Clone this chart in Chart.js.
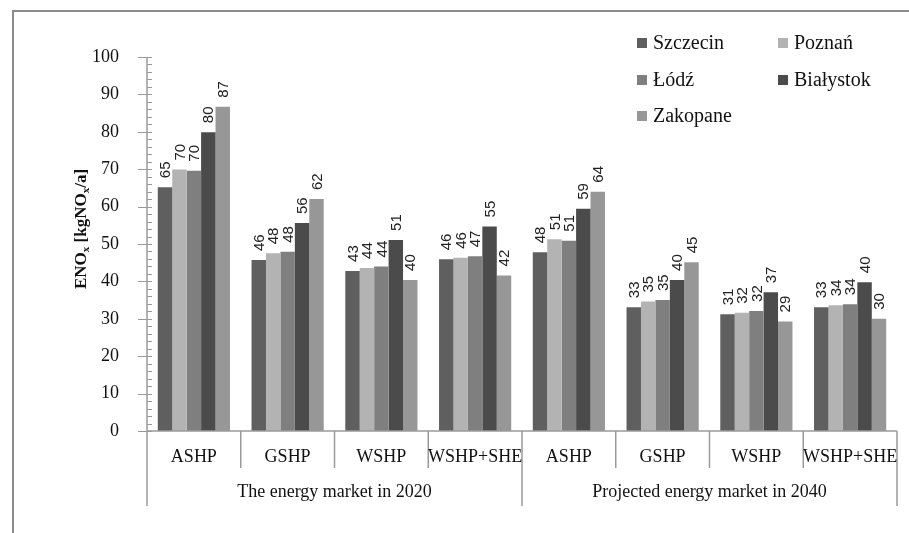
<!DOCTYPE html>
<html lang="en">
<head>
<meta charset="UTF-8">
<title>ENOx</title>
<script src="https://cdn.jsdelivr.net/npm/chart.js"></script>
<style>
  html, body { margin: 0; padding: 0; background: #fff; }
  #wrap { position: relative; width: 909px; height: 533px; overflow: hidden; }
  #frame { position: absolute; left: 12px; top: 10px; width: 1000px; height: 1000px;
           border-left: 2px solid #8c8c8c; border-top: 2px solid #8c8c8c; }
  #chart { position: absolute; left: 0; top: 0; }
  .legend { position: absolute; font-family: "Liberation Serif", serif; font-size: 20px; color: #111; }
  .legend span.box { display: inline-block; width: 10px; height: 10px; margin-right: 6px; vertical-align: 1px; }
</style>
</head>
<body>
<div id="wrap">
  <div id="frame"></div>
  <canvas id="chart" width="909" height="533"></canvas>
  <div id="legend"></div>
</div>

<script>
  const categories = ['ASHP', 'GSHP', 'WSHP', 'WSHP+SHE', 'ASHP', 'GSHP', 'WSHP', 'WSHP+SHE'];
  const groups = ['The energy market in 2020', 'Projected energy market in 2040'];
  const cities = ['Szczecin', 'Poznań', 'Łódź', 'Białystok', 'Zakopane'];
  const colors = ['#5f5f5f', '#b3b3b3', '#7f7f7f', '#4b4b4b', '#979797'];

  const szczecin  = [65.2, 45.7, 42.8, 45.9, 47.8, 33.1, 31.2, 33.1];
  const poznan    = [69.9, 47.5, 43.6, 46.3, 51.3, 34.6, 31.6, 33.6];
  const lodz      = [69.6, 47.9, 44.0, 46.7, 50.9, 35.0, 32.1, 33.9];
  const bialystok = [79.9, 55.6, 51.1, 54.7, 59.4, 40.4, 37.1, 39.8];
  const zakopane  = [86.7, 62.0, 40.4, 41.6, 64.0, 45.1, 29.3, 30.0];
  const series = [szczecin, poznan, lodz, bialystok, zakopane];

  const yTicks = [0, 10, 20, 30, 40, 50, 60, 70, 80, 90, 100];

  const serif = '"Liberation Serif", "Times New Roman", serif';
  const axisGray = '#9a9a9a';

  // legend, two columns in the top right
  const legendPos = [[637, 31], [778, 31], [637, 68], [778, 68], [637, 104]];
  const legendEl = document.getElementById('legend');
  cities.forEach((c, i) => {
    const d = document.createElement('div');
    d.className = 'legend';
    d.style.left = legendPos[i][0] + 'px';
    d.style.top = legendPos[i][1] + 'px';
    d.innerHTML = '<span class="box" style="background:' + colors[i] + '"></span>' + c;
    legendEl.appendChild(d);
  });

  const decorations = {
    id: 'decorations',
    afterDatasetsDraw(chart) {
      const ctx = chart.ctx;
      const area = chart.chartArea;
      const x = chart.scales.x;
      const y = chart.scales.y;

      // value labels, rotated
      ctx.save();
      ctx.fillStyle = '#222';
      ctx.font = '15px "Liberation Sans", Arial, sans-serif';
      ctx.textAlign = 'left';
      ctx.textBaseline = 'middle';
      chart.data.datasets.forEach((ds, di) => {
        chart.getDatasetMeta(di).data.forEach((bar, i) => {
          ctx.save();
          ctx.translate(bar.x, bar.y - 9);
          ctx.rotate(-Math.PI / 2);
          ctx.fillText(String(Math.round(ds.data[i])), 0, 1);
          ctx.restore();
        });
      });
      ctx.restore();
    },
    afterDraw(chart) {
      const ctx = chart.ctx;
      const area = chart.chartArea;
      const x = chart.scales.x;
      const y = chart.scales.y;
      ctx.save();
      ctx.strokeStyle = axisGray;
      ctx.lineWidth = 1.5;

      // axes
      ctx.beginPath();
      ctx.moveTo(area.left, area.top);
      ctx.lineTo(area.left, area.bottom);
      ctx.lineTo(area.right, area.bottom);
      ctx.stroke();

      // y ticks
      ctx.lineWidth = 1;
      ctx.beginPath();
      for (let v = 0; v <= 100; v += 2) {
        const py = Math.round(y.getPixelForValue(v)) + 0.5;
        if (v % 10 === 0) {
          ctx.moveTo(area.left - 9, py);
        } else {
          ctx.moveTo(area.left, py);
        }
        ctx.lineTo(area.left + 5, py);
      }
      ctx.stroke();

      // category and group dividers
      const n = categories.length;
      const bounds = [area.left];
      for (let i = 0; i < n - 1; i++) {
        bounds.push((x.getPixelForTick(i) + x.getPixelForTick(i + 1)) / 2);
      }
      bounds.push(area.right);
      ctx.lineWidth = 1.5;
      ctx.beginPath();
      bounds.forEach((bx, i) => {
        const long = (i === 0 || i === n / 2 || i === n);
        ctx.moveTo(bx, area.bottom);
        ctx.lineTo(bx, area.bottom + (long ? 75 : 37));
      });
      ctx.stroke();

      // category labels
      ctx.fillStyle = '#111';
      ctx.font = '18px ' + serif;
      ctx.textAlign = 'center';
      ctx.textBaseline = 'middle';
      categories.forEach((c, i) => {
        ctx.fillText(c, x.getPixelForTick(i), area.bottom + 26);
      });

      // group labels
      const half = n / 2;
      groups.forEach((g, gi) => {
        const gx = (bounds[gi * half] + bounds[(gi + 1) * half]) / 2;
        ctx.fillText(g, gx, area.bottom + 61);
      });

      // y axis title with subscripts
      ctx.save();
      ctx.translate(82, 229);
      ctx.rotate(-Math.PI / 2);
      ctx.textAlign = 'left';
      ctx.textBaseline = 'middle';
      const big = 'bold 17px ' + serif;
      const small = 'bold 11px ' + serif;
      const parts = [['ENO', big, 0], ['x', small, 4], [' [kgNO', big, 0], ['x', small, 4], ['/a]', big, 0]];
      let total = 0;
      parts.forEach(p => { ctx.font = p[1]; total += ctx.measureText(p[0]).width; });
      let px = -total / 2;
      parts.forEach(p => {
        ctx.font = p[1];
        ctx.fillText(p[0], px, p[2]);
        px += ctx.measureText(p[0]).width;
      });
      ctx.restore();

      ctx.restore();
    }
  };

  new Chart(document.getElementById('chart').getContext('2d'), {
    type: 'bar',
    data: {
      labels: categories,
      datasets: cities.map((c, i) => ({
        label: c,
        data: series[i],
        backgroundColor: colors[i],
        borderWidth: 0,
        categoryPercentage: 0.77,
        barPercentage: 1.0
      }))
    },
    options: {
      responsive: false,
      animation: false,
      layout: { padding: { left: 0, top: 57, right: 12, bottom: 0 } },
      plugins: {
        legend: { display: false },
        tooltip: { enabled: false }
      },
      scales: {
        x: {
          grid: { display: false },
          border: { display: false },
          ticks: { display: false },
          afterFit(scale) { scale.height = 102; }
        },
        y: {
          min: 0,
          max: 100,
          grid: { display: false },
          border: { display: false },
          afterBuildTicks(scale) { scale.ticks = yTicks.map(v => ({ value: v })); },
          ticks: {
            color: '#111',
            padding: 20,
            font: { family: serif, size: 18 }
          },
          afterFit(scale) { scale.width = 147; }
        }
      }
    },
    plugins: [decorations]
  });
</script>
</body>
</html>
